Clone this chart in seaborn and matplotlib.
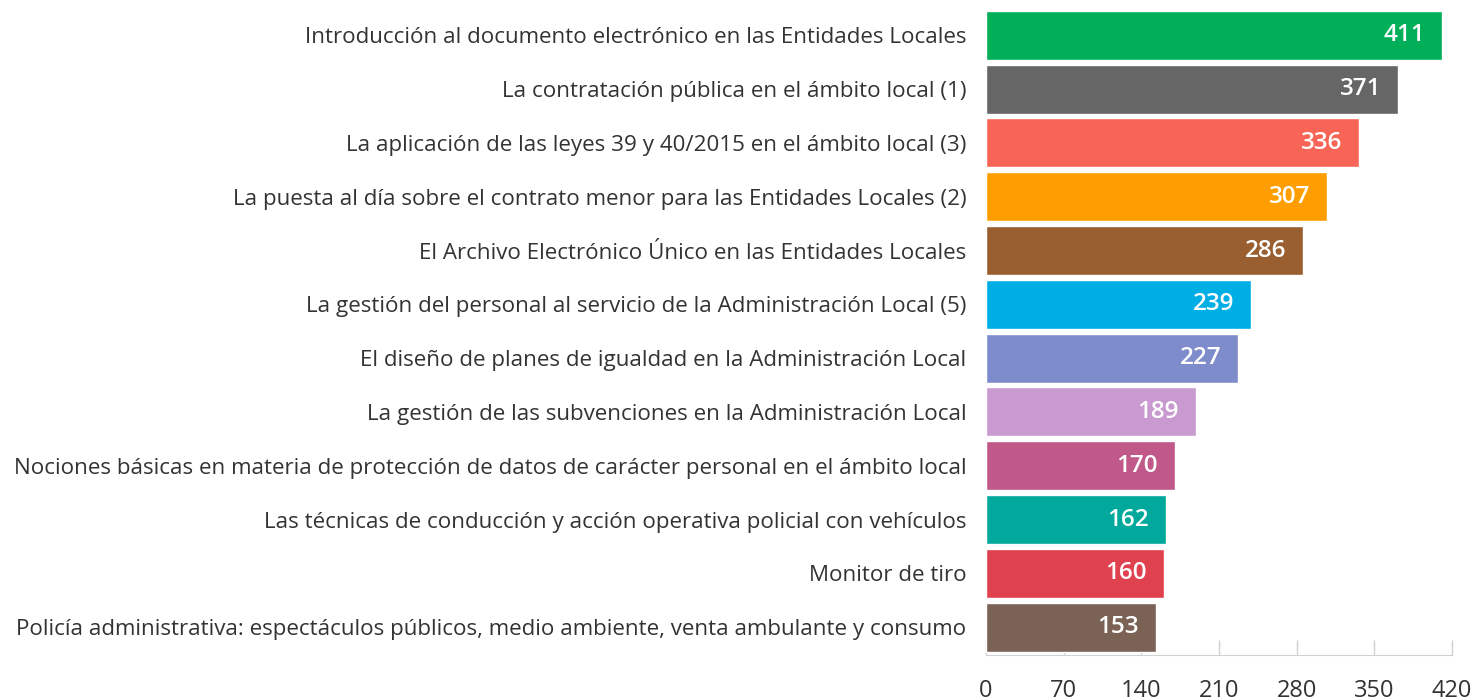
import pandas as pd
import seaborn as sns
import matplotlib.pyplot as plt

# data
cursos = [
    "Introducción al documento electrónico en las Entidades Locales",
    "La contratación pública en el ámbito local (1)",
    "La aplicación de las leyes 39 y 40/2015 en el ámbito local (3)",
    "La puesta al día sobre el contrato menor para las Entidades Locales (2)",
    "El Archivo Electrónico Único en las Entidades Locales",
    "La gestión del personal al servicio de la Administración Local (5)",
    "El diseño de planes de igualdad en la Administración Local",
    "La gestión de las subvenciones en la Administración Local",
    "Nociones básicas en materia de protección de datos de carácter personal en el ámbito local",
    "Las técnicas de conducción y acción operativa policial con vehículos",
    "Monitor de tiro",
    "Policía administrativa: espectáculos públicos, medio ambiente, venta ambulante y consumo",
]
alumnos = [411, 371, 336, 307, 286, 239, 227, 189, 170, 162, 160, 153]
colores = ["#00AF58", "#666666", "#F86556", "#FF9E00", "#9A5F30", "#00AEE6",
           "#7F8CCB", "#C89ACF", "#C0588A", "#00A99B", "#E0414F", "#7A6255"]
ticks = [0, 70, 140, 210, 280, 350, 420]

df = pd.DataFrame({"curso": cursos, "alumnos": alumnos})

sns.set_style("white")
plt.rcParams["font.family"] = ["Open Sans", "DejaVu Sans"]

fig = plt.figure(figsize=(14.75, 7), dpi=100)
ax = fig.add_axes([0.6685, 0.064, 0.3159, 0.924])

sns.barplot(data=df, x="alumnos", y="curso", hue="curso", palette=colores,
            legend=False, width=0.91, saturation=1, ax=ax)

for cont in ax.containers:
    ax.bar_label(cont, labels=[f"{v:.0f}" for v in cont.datavalues],
                 padding=-12, color="white", fontsize=17.5, fontweight="semibold")
for t in ax.texts:
    t.set_ha("right")
    t.set_va("center")

ax.set_xlim(0, 420)
ax.set_ylim(11.52, -0.5)
ax.set_xticks(ticks)
ax.set_xlabel("")
ax.set_ylabel("")
ax.tick_params(axis="x", bottom=True, direction="in", length=11, width=1,
               color="#D0D0D0", pad=17, labelsize=17, labelcolor="#333333")
ax.tick_params(axis="y", length=0, pad=14, labelsize=16.1, labelcolor="#333333")
for s in ["top", "right", "left"]:
    ax.spines[s].set_visible(False)
ax.spines["bottom"].set_color("#D0D0D0")

fig.savefig("out.png", dpi=100)
